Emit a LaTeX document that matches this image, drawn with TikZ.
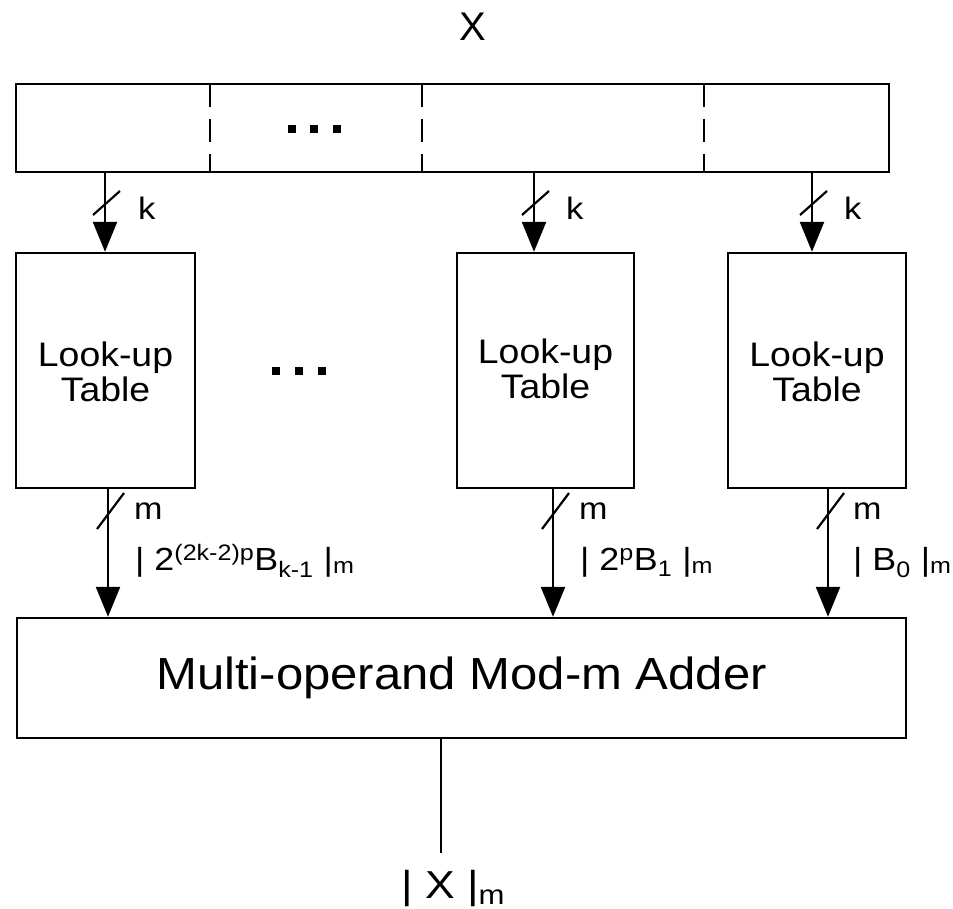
\documentclass[tikz,border=0pt]{standalone}
\usepackage{fontspec}
\setmainfont{Liberation Sans}
\usetikzlibrary{arrows.meta}
\newcommand\hstr[2]{\scalebox{#1}[1]{#2}}
\begin{document}
\begin{tikzpicture}[x=1pt,y=-1pt,line width=2.4pt,
  box/.style={draw,line width=2.4pt,inner sep=0pt},
  arr/.style={-{Triangle[width=24pt,length=30pt]}},
  slashmark/.style={line width=2.2pt},
  lbl/.style={font=\fontsize{32}{36}\selectfont,inner sep=0pt,anchor=base west},
  bus/.style={font=\fontsize{31}{36}\selectfont,inner sep=0pt,anchor=base west},
  luttext/.style={font=\fontsize{34}{35}\selectfont,align=center},
  dotsq/.style={fill=black,draw=none,minimum width=8pt,minimum height=8pt,inner sep=0pt},
  divider/.style={line width=2.4pt,dash pattern=on 23pt off 12pt}
  ]
\useasboundingbox (0,0) rectangle (953,909);
% input register
\node[font=\fontsize{40}{44}\selectfont] (xin) at (473,27) {X};
\node[box,minimum width=873pt,minimum height=88pt] (reg) at (452.5,128) {};
\draw[divider] (210,84) -- (210,172);
\draw[divider] (422,84) -- (422,172);
\draw[divider] (704,84) -- (704,172);
\node[dotsq] (d1) at (291.5,129) {};
\node[dotsq] (d2) at (314,129) {};
\node[dotsq] (d3) at (336.5,129) {};
% look-up tables
\node[box,minimum width=179pt,minimum height=235pt] (lut1) at (105.5,370.5) {};
\node[box,minimum width=177pt,minimum height=235pt] (lut2) at (545.5,370.5) {};
\node[box,minimum width=178pt,minimum height=235pt] (lut3) at (817,370.5) {};
\node[luttext] (t1) at (105.5,372) {\hstr{1.1}{Look-up}\\\hstr{1.1}{Table}};
\node[luttext] (t2) at (545.5,369) {\hstr{1.1}{Look-up}\\\hstr{1.1}{Table}};
\node[luttext] (t3) at (817,372) {\hstr{1.1}{Look-up}\\\hstr{1.1}{Table}};
\node[dotsq] (e1) at (276,371) {};
\node[dotsq] (e2) at (299,371) {};
\node[dotsq] (e3) at (322,371) {};
% adder
\node[box,minimum width=889pt,minimum height=120pt,font=\fontsize{45}{50}\selectfont] (add) at (461.5,678) {\hstr{1.09}{Multi-operand Mod-m Adder}};
% top buses
\coordinate (a1) at (105,0);
\coordinate (a2) at (534,0);
\coordinate (a3) at (812,0);
\draw[arr] (reg.south -| a1) -- (lut1.north -| a1);
\draw[arr] (reg.south -| a2) -- (lut2.north -| a2);
\draw[arr] (reg.south -| a3) -- (lut3.north -| a3);
\foreach \x in {105,534,812}{
  \draw[slashmark] (\x-12,215) -- (\x+15,191);
}
\node[bus] (k1) at (137,220) {\hstr{1.12}{k}};
\node[bus] (k2) at (565,220) {\hstr{1.12}{k}};
\node[bus] (k3) at (843,220) {\hstr{1.12}{k}};
% bottom buses
\coordinate (b1) at (108,0);
\coordinate (b2) at (553,0);
\coordinate (b3) at (828,0);
\draw[arr] (lut1.south -| b1) -- (add.north -| b1);
\draw[arr] (lut2.south -| b2) -- (add.north -| b2);
\draw[arr] (lut3.south -| b3) -- (add.north -| b3);
\foreach \x in {108,553,828}{
  \draw[slashmark] (\x-11,529) -- (\x+16,493);
}
\node[bus] (m1) at (133,519) {\hstr{1.1}{m}};
\node[bus] (m2) at (578,519) {\hstr{1.1}{m}};
\node[bus] (m3) at (852,519) {\hstr{1.1}{m}};
\node[lbl] (l1) at (134,570) {\hstr{1.12}{| 2\textsuperscript{(2k-2)p}B\textsubscript{k-1} |\textsubscript{m}}};
\node[lbl] (l2) at (579,570) {\hstr{1.12}{| 2\textsuperscript{p}B\textsubscript{1} |\textsubscript{m}}};
\node[lbl] (l3) at (852,570) {\hstr{1.12}{| B\textsubscript{0} |\textsubscript{m}}};
% output
\coordinate (o) at (441,853);
\draw (add.south -| o) -- (o);
\node[font=\fontsize{39}{44}\selectfont,inner sep=0pt,anchor=base west] (xout) at (400,898) {\hstr{1.14}{| X |\textsubscript{m}}};
\end{tikzpicture}
\end{document}
